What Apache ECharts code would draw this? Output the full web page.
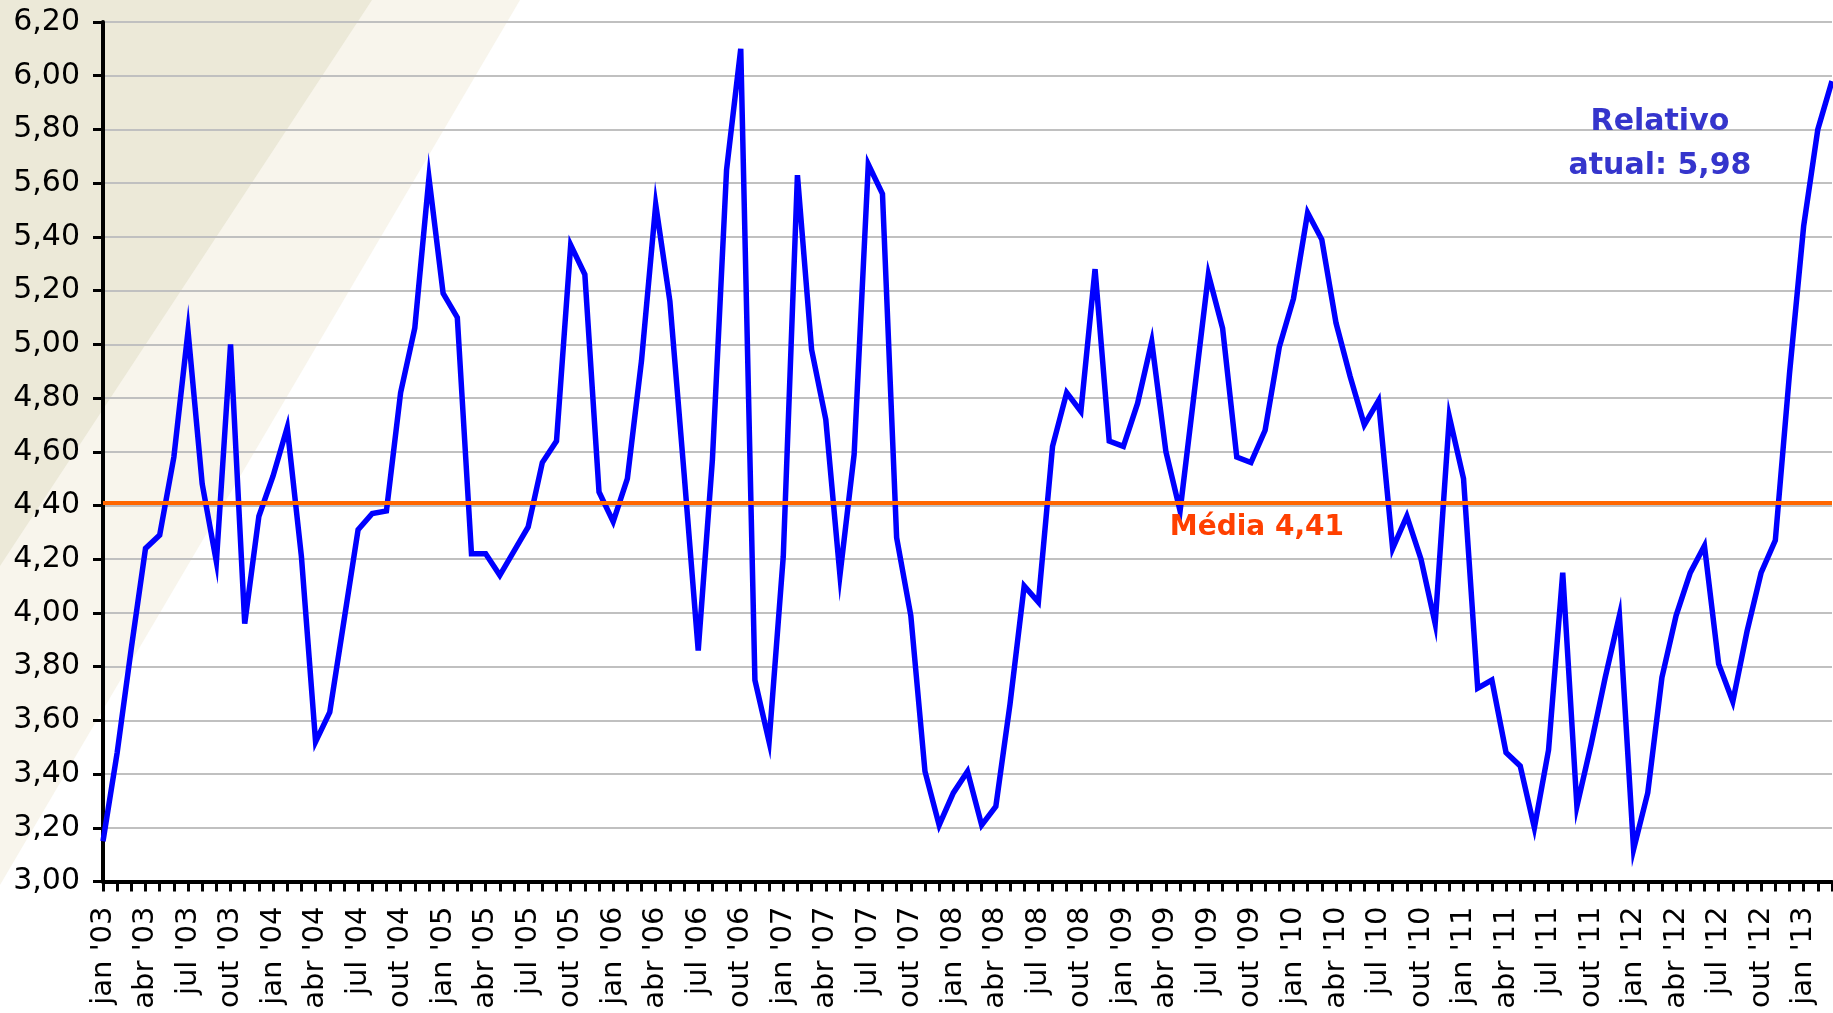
<!DOCTYPE html>
<html>
<head>
<meta charset="utf-8">
<script src="https://cdn.jsdelivr.net/npm/echarts@6/dist/echarts.min.js"></script>
<style>
html,body{margin:0;padding:0;background:#ffffff;}
#chart{width:1833px;height:1013px;}
</style>
</head>
<body>
<div id="chart"></div>
<script>
// Month names (Portuguese) and years for the category axis
const monthNames = ['jan','fev','mar','abr','mai','jun','jul','ago','set','out','nov','dez'];
const years = ['03','04','05','06','07','08','09','10','11','12','13'];
const categories = [];
years.forEach(function (y) {
  monthNames.forEach(function (m) { categories.push(m + " '" + y); });
});
categories.length = 123; // jan '03 .. mar '13

// Relative value, monthly
const values = [
  3.15, 3.48, 3.87, 4.24, 4.29, 4.58, 5.05, 4.48, 4.19, 5.00, 3.96, 4.36,
  4.51, 4.69, 4.21, 3.52, 3.63, 3.97, 4.31, 4.37, 4.38, 4.82, 5.06, 5.62,
  5.19, 5.10, 4.22, 4.22, 4.14, 4.23, 4.32, 4.56, 4.64, 5.37, 5.26, 4.45,
  4.34, 4.50, 4.94, 5.52, 5.16, 4.52, 3.86, 4.57, 5.65, 6.10, 3.75, 3.52,
  4.21, 5.63, 4.98, 4.72, 4.14, 4.59, 5.67, 5.56, 4.28, 3.99, 3.41, 3.21,
  3.33, 3.41, 3.21, 3.28, 3.66, 4.10, 4.04, 4.62, 4.82, 4.75, 5.28, 4.64,
  4.62, 4.78, 5.01, 4.60, 4.38, 4.82, 5.26, 5.06, 4.58, 4.56, 4.68, 4.99,
  5.17, 5.49, 5.39, 5.08, 4.88, 4.70, 4.79, 4.24, 4.36, 4.20, 3.96, 4.73,
  4.50, 3.72, 3.75, 3.48, 3.43, 3.20, 3.49, 4.15, 3.28, 3.51, 3.76, 3.99,
  3.12, 3.33, 3.76, 3.99, 4.15, 4.25, 3.81, 3.67, 3.93, 4.15, 4.27, 4.89,
  5.44, 5.80, 5.98
];

const meanValue = 4.41;
const meanLabel = 'Média 4,41';
const currentLabel = 'Relativo\natual: 5,98';

// Y-axis ticks
const yMin = 3.0, yMax = 6.2, yStep = 0.2;

const chart = echarts.init(document.getElementById('chart'), null, { renderer: 'canvas' });

const option = {
  animation: false,
  backgroundColor: '#ffffff',
  graphic: [
    {
      type: 'polygon', z: -100, silent: true,
      shape: { points: [[370, 0], [520, 0], [0, 885], [0, 565]] },
      style: { fill: '#f8f5ec' }
    },
    {
      type: 'polygon', z: -99, silent: true,
      shape: { points: [[0, 0], [372, 0], [0, 566]] },
      style: { fill: '#ece9d8' }
    }
  ],
  grid: { left: 103, right: 1, top: 22, bottom: 131.5, containLabel: false },
  xAxis: {
    type: 'category',
    data: categories,
    boundaryGap: false,
    axisLine: { show: true, lineStyle: { color: '#000000', width: 4 } },
    axisTick: { show: true, interval: 0, length: 10, lineStyle: { color: '#000000', width: 3 } },
    axisLabel: {
      interval: 2,
      rotate: 90,
      margin: 25,
      color: '#000000',
      fontFamily: 'DejaVu Sans',
      fontSize: 29
    },
    splitLine: { show: false }
  },
  yAxis: {
    type: 'value',
    min: yMin,
    max: yMax,
    interval: yStep,
    axisLine: { show: true, lineStyle: { color: '#000000', width: 4 } },
    axisTick: { show: true, length: 10, lineStyle: { color: '#000000', width: 3 } },
    axisLabel: {
      margin: 23,
      color: '#000000',
      fontFamily: 'DejaVu Sans',
      fontSize: 30,
      formatter: function (v) { return v.toFixed(2).replace('.', ','); }
    },
    splitLine: { show: true, lineStyle: { color: '#c0c0c0', width: 2 } }
  },
  series: [
    {
      name: 'Média',
      type: 'line',
      z: 1,
      data: values,
      showSymbol: false,
      silent: true,
      lineStyle: { opacity: 0 },
      markLine: {
        silent: true,
        symbol: ['none', 'none'],
        label: { show: false },
        lineStyle: { color: '#ff6600', width: 4, type: 'solid' },
        data: [{ yAxis: meanValue }]
      },
      markPoint: {
        silent: true,
        symbol: 'circle',
        symbolSize: 1,
        itemStyle: { color: 'rgba(0,0,0,0)' },
        label: {
          show: true,
          position: 'inside',
          offset: [6, 0],
          color: '#ff4000',
          fontFamily: 'DejaVu Sans',
          fontWeight: 'bold',
          fontSize: 28,
          formatter: meanLabel
        },
        data: [{ coord: [81, 4.316] }]
      }
    },
    {
      name: 'Relativo',
      type: 'line',
      z: 3,
      data: values,
      showSymbol: false,
      symbol: 'none',
      lineStyle: { color: '#0000ff', width: 5.5, join: 'miter' },
      markPoint: {
        silent: true,
        symbol: 'circle',
        symbolSize: 1,
        itemStyle: { color: 'rgba(0,0,0,0)' },
        label: {
          show: true,
          position: 'inside',
          offset: [-2, 0],
          color: '#3535cc',
          fontFamily: 'DejaVu Sans',
          fontWeight: 'bold',
          fontSize: 30,
          lineHeight: 44,
          align: 'center',
          formatter: currentLabel
        },
        data: [{ coord: [110, 5.745] }]
      }
    }
  ]
};

chart.setOption(option);
</script>
</body>
</html>
